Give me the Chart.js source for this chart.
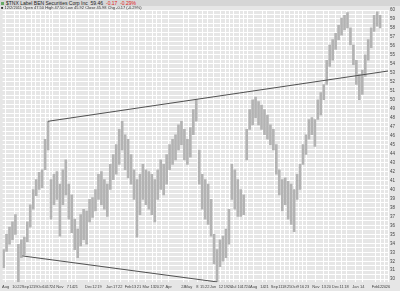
<!DOCTYPE html>
<html>
<head>
<meta charset="utf-8">
<script src="https://cdn.jsdelivr.net/npm/chart.js@4/dist/chart.umd.min.js"></script>
<style>
html, body { margin: 0; padding: 0; background: #e6e6e6; }
#wrap { position: relative; width: 400px; height: 291px; }
#hdr { position: absolute; left: 0; top: 0; width: 400px; height: 6px; background: #d6d6d6;
       font: 5px 'Liberation Sans', Arial, sans-serif; line-height: 6px; color: #222; white-space: nowrap; }
#hdr .ico { display: inline-block; width: 3px; height: 3px; background: #6a6; margin: 0 2px 0 1px; }
#hdr .neg { color: #e02020; margin-left: 3px; }
#sub { position: absolute; left: 1px; top: 6px; font: 4px 'Liberation Sans', Arial, sans-serif;
       line-height: 4px; color: #333; white-space: nowrap; }
canvas { display: block; }
</style>
</head>
<body>
<div id="wrap">
  <canvas id="chart" width="400" height="291"></canvas>
  <div id="hdr"><span class="ico"></span>$TNX Label BEN Securities Corp Inc &nbsp;59.46<span class="neg">-0.17 &nbsp;-0.29%</span></div>
  <div id="sub">&#9632; 12/2/2011 Open 47.50 High 47.50 Low 45.92 Close 45.98 Chg -0.17 (-0.29%)</div>
</div>
<script>
// Price bars (day index, low, high)
const days = [1,4,7,10,13,16,19,22,25,28,31,34,37,40,43,46,49,52,55,58,61,64,67,70,73,76,79,82,85,88,91,94,
  97,100,103,106,109,112,115,118,121,124,127,130,133,136,139,142,145,148,151,154,157,160,163,166,169,172,175,178,181,184,187,190,
  193,196,199,202,205,208,211,214,217,220,223,226,229,232,235,238,241,244,247,250,253,256,259,262,265,268,271,274,277,280,283,286,
  289,292,295,298,301,304,307,310,313,316,319,322,325,328,331,334,337,340,343,346,349,352,355,358,361,364,367,370,373,376,379,382];

const lows = [31.3,33.1,33.9,34.4,35.0,29.7,32.4,32.7,34.2,35.8,37.8,39.3,40.0,40.2,42.2,44.4,
  36.7,38.3,38.9,34.8,38.3,39.4,36.7,35.2,33.3,32.4,33.7,34.4,33.9,36.4,36.9,37.6,
  38.9,38.3,37.8,37.0,40.0,41.1,41.7,42.8,44.4,42.2,41.3,40.6,38.9,34.7,37.2,38.9,
  38.3,37.8,37.2,36.4,38.9,40.0,39.4,40.6,42.2,42.8,43.3,44.4,45.0,43.3,42.8,43.6,
  46.1,47.6,40.6,37.8,36.7,36.1,34.8,31.7,29.7,31.4,32.0,32.4,33.9,38.9,37.8,37.0,
  37.0,37.2,43.3,46.7,47.2,48.0,47.2,46.7,46.1,45.6,45.0,44.4,41.7,39.4,37.6,38.3,
  36.7,36.1,35.3,38.9,40.0,42.8,43.9,45.6,46.1,44.8,47.8,48.3,50.0,51.7,53.7,54.4,
  55.6,56.7,57.2,57.8,58.0,56.1,53.9,51.7,50.0,50.6,52.6,54.4,55.8,57.6,58.2,58.0];

const highs = [33.3,35.0,35.8,36.4,37.2,33.9,34.4,34.7,36.4,38.3,40.0,41.1,41.9,42.2,45.6,47.6,
  41.1,41.7,42.0,40.6,42.2,43.3,40.6,39.4,36.7,35.6,37.2,37.8,37.6,38.9,39.1,40.0,
  41.7,42.0,41.1,40.6,42.8,43.9,45.0,46.7,47.6,46.1,45.6,43.9,42.2,41.1,41.7,42.8,
  42.2,42.0,41.7,41.1,42.2,43.3,42.8,43.9,45.0,45.6,46.1,47.2,47.6,46.7,45.6,46.9,
  48.9,50.0,44.4,41.7,41.1,40.6,38.9,35.0,33.3,34.4,34.8,35.6,37.8,42.8,42.2,41.1,
  40.0,39.4,46.7,48.9,50.0,50.3,49.8,49.4,48.9,48.3,47.2,46.7,45.0,42.2,41.1,41.3,
  40.9,40.6,40.0,41.7,42.8,45.0,46.1,47.8,48.0,47.8,50.0,50.8,51.7,54.4,56.1,56.7,
  57.4,58.3,59.1,59.4,59.7,58.0,56.1,54.4,52.8,53.3,55.0,56.7,58.0,59.4,59.8,59.4];

// Trendlines
const upperDays = [46, 390];
const upperValues = [47.6, 53.2];
const lowerDays = [20, 217];
const lowerValues = [32.6, 29.7];

// Axis ticks
const xTickDays = [3,12,17,23,29,33,38,43,47,51,58,66,70,74,87,93,98,108,114,119,127,133,138,145,152,156,161,168,183,188,
  197,202,207,213,221,226,230,234,240,244,248,254,263,267,275,281,285,290,295,299,303,308,317,325,330,337,343,348,357,364,377,382,386,390];
const xTickLabels = ['Aug','10','22','Sep','12','19','Oct','10','17','24','Nov','7','14','21','Dec','12','19','Jan','17','22',
  'Feb','13','21','Mar','13','20','27','Apr','24','May','8','15','22','Jun','12','19','26','Jul','10','17','24','Aug','14','21',
  'Sep','11','18','25','Oct','9','16','23','Nov','13','20','Dec','11','18','Jan','14','Feb','12','20','26'];
const yMin = 29.67;
const yMax = 60;

const ctx = document.getElementById('chart').getContext('2d');
new Chart(ctx, {
    type: 'bar',
    data: {
        datasets: [{
            type: 'line',
            data: upperDays.map((d, i) => ({x: d, y: upperValues[i]})),
            borderColor: '#505050',
            borderWidth: 1,
            pointRadius: 0,
            order: 0
        }, {
            type: 'line',
            data: lowerDays.map((d, i) => ({x: d, y: lowerValues[i]})),
            borderColor: '#505050',
            borderWidth: 1,
            pointRadius: 0,
            order: 0
        }, {
            type: 'bar',
            data: days.map((d, i) => ({x: d, y: [lows[i], highs[i]]})),
            backgroundColor: '#b3b3b3',
            barThickness: 2,
            order: 1
        }]
    },
    options: {
        responsive: false,
        animation: false,
        layout: {padding: {top: 10, left: 0, right: 0, bottom: 0}},
        plugins: {legend: {display: false}, tooltip: {enabled: false}},
        scales: {
            x: {
                type: 'linear', min: 0, max: 390, offset: false,
                grid: {color: '#ffffff', drawTicks: false, offset: false},
                border: {display: false},
                afterBuildTicks: s => { s.ticks = xTickDays.map(v => ({value: v})); },
                ticks: {
                    autoSkip: false, maxRotation: 0, padding: 2, color: '#444',
                    font: {size: 4, family: 'Liberation Sans'},
                    callback: v => { const i = xTickDays.indexOf(v); return i < 0 ? '' : xTickLabels[i]; }
                }
            },
            y: {
                position: 'right', min: yMin, max: yMax,
                grid: {color: '#ffffff', drawTicks: false},
                border: {display: false},
                afterFit: s => { s.width = 12; },
                ticks: {
                    stepSize: 0.5, includeBounds: false, autoSkip: false, padding: 2, color: '#444',
                    font: {size: 4.5, family: 'Liberation Sans'},
                    callback: v => Number.isInteger(v) ? String(v) : ''
                }
            }
        }
    }
});
</script>
</body>
</html>
